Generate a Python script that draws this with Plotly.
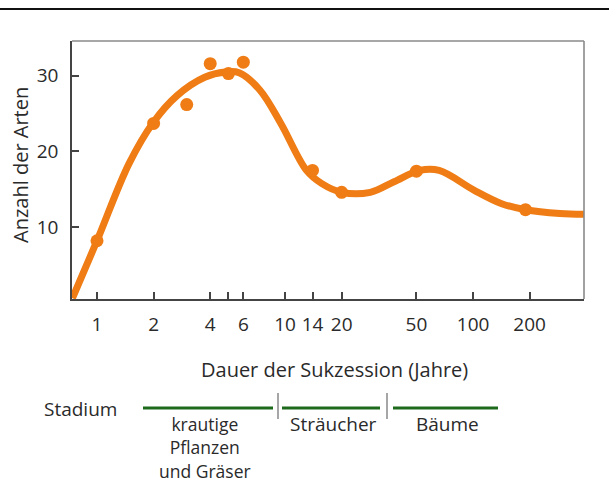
import plotly.graph_objects as go

# Observed data points (years, number of species)
point_years = [1, 2, 3, 4, 5, 6, 14, 20, 50, 190]
point_species = [8.2, 23.7, 26.2, 31.6, 30.3, 31.8, 17.5, 14.6, 17.4, 12.3]

# Smoothed trend curve
curve_years = [0.74, 1, 1.48, 2, 2.67, 3.74, 4.8, 5.7, 7.36, 9.5, 13, 15.7, 20,
               28.4, 38, 52, 66, 101, 142, 190, 290, 389]
curve_species = [0.6, 8.2, 18.4, 23.9, 27.4, 29.8, 30.5, 30.4, 28.1, 23.7, 17.5,
                 15.75, 14.6, 14.6, 16.0, 17.5, 17.5, 14.9, 13.1, 12.3, 11.8, 11.7]

x_tickvals = [1, 2, 4, 5, 6, 10, 14, 20, 50, 100, 200]
x_ticktext = ["1", "2", "4", "", "6", "10", "14", "20", "50", "100", "200"]
y_tickvals = [10, 20, 30]

stage_labels = ["krautige<br>Pflanzen<br>und Gräser", "Sträucher", "Bäume"]

ORANGE = "rgb(239,124,20)"
TXT = "#2a2a2a"
FONT = "Open Sans"

fig = go.Figure()
fig.add_trace(go.Scatter(
    x=curve_years, y=curve_species, mode="lines",
    line=dict(color=ORANGE, width=7, shape="spline", smoothing=1.0),
    hoverinfo="skip", showlegend=False))
fig.add_trace(go.Scatter(
    x=point_years, y=point_species, mode="markers",
    marker=dict(color=ORANGE, size=13), showlegend=False))

fig.update_layout(
    width=609, height=492,
    margin=dict(l=72, r=25, t=41, b=193),
    paper_bgcolor="white", plot_bgcolor="white",
    font=dict(family=FONT, color=TXT, size=19),
    xaxis=dict(type="log", range=[-0.133, 2.590],
               tickvals=x_tickvals, ticktext=x_ticktext,
               ticks="inside", ticklen=7, tickwidth=1.5, tickcolor="#444",
               showline=True, linecolor="#444", linewidth=1.6, mirror=False,
               showgrid=False, zeroline=False,
               tickfont=dict(size=19, color=TXT, family=FONT),
               ticklabelstandoff=7),
    yaxis=dict(range=[0.5, 34.6], tickvals=y_tickvals,
               ticks="inside", ticklen=7, tickwidth=1.5, tickcolor="#444",
               showline=True, linecolor="#444", linewidth=1.6, mirror=False,
               showgrid=False, zeroline=False,
               tickfont=dict(size=19, color=TXT, family=FONT),
               ticklabelstandoff=8),
)

def px(x):
    return (x - 72) / 512

def py(y):
    return (299 - y) / 258

def big(t, size):
    return "<br>".join(f'<span style="font-size:{size}px">{p}</span>' for p in t.split("<br>"))

ann = []
ann.append(dict(text="Dauer der Sukzession (Jahre)", x=px(334), y=py(369), fs=20))
ann.append(dict(text="Anzahl der Arten", x=px(20), y=py(165), textangle=-90, fs=20))
ann.append(dict(text="Stadium", x=px(80), y=py(409), fs=19))
# multi-line label: base font sets line spacing, inner spans set glyph size
ann.append(dict(text=big(stage_labels[0], 17.5), x=px(205), y=py(447), fs=18))
ann.append(dict(text=stage_labels[1], x=px(333), y=py(424), fs=19))
ann.append(dict(text=stage_labels[2], x=px(447), y=py(424), fs=19))
for a in ann:
    fs = a.pop("fs")
    a.update(xref="paper", yref="paper", showarrow=False,
             xanchor="center", yanchor="middle",
             font=dict(size=fs, color=TXT, family=FONT))
fig.update_layout(annotations=ann)

shapes = []
# top black rule
shapes.append(dict(type="line", xref="paper", yref="paper",
                   x0=-0.2, x1=1.2, y0=py(9), y1=py(9),
                   line=dict(color="#111", width=2)))
# light top and right frame
shapes.append(dict(type="line", xref="paper", yref="paper",
                   x0=0, x1=1, y0=1, y1=1, line=dict(color="#8a8a8a", width=1.6)))
shapes.append(dict(type="line", xref="paper", yref="paper",
                   x0=1, x1=1, y0=0, y1=1, line=dict(color="#8a8a8a", width=1.6)))
# stage bars
for a, b in [(143, 273), (282, 380), (393, 498)]:
    shapes.append(dict(type="line", xref="paper", yref="paper",
                       x0=px(a), x1=px(b), y0=py(408), y1=py(408),
                       line=dict(color="#1d6a1d", width=3)))
for s in [278, 387]:
    shapes.append(dict(type="line", xref="paper", yref="paper",
                       x0=px(s), x1=px(s), y0=py(393), y1=py(419),
                       line=dict(color="#888", width=1.5)))
fig.update_layout(shapes=shapes)

fig.write_html("out.html", config={"displayModeBar": False},
               post_script="document.body.style.margin='0';")
